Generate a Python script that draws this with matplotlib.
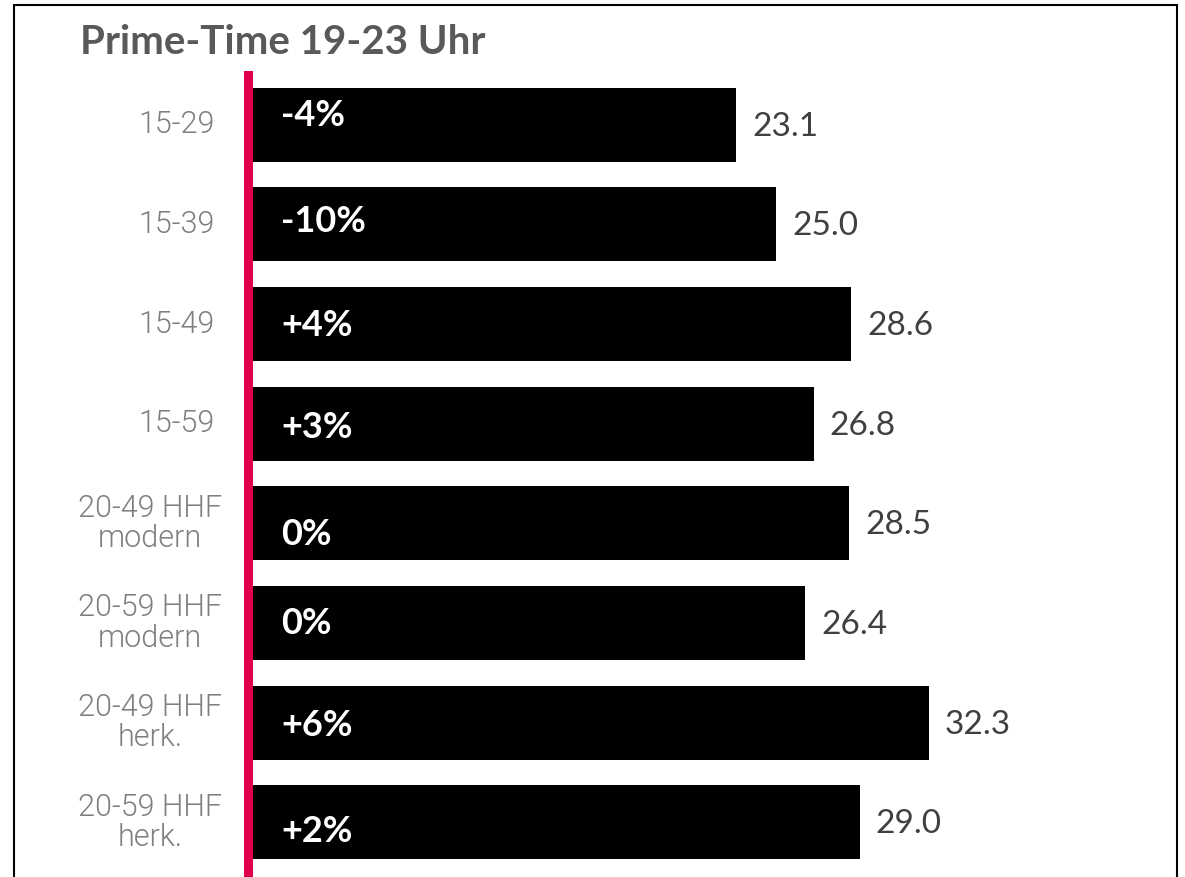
import matplotlib
matplotlib.use('Agg')
import matplotlib.pyplot as plt
from matplotlib.patches import Rectangle

# данные
cats = ['15-29', '15-39', '15-49', '15-59',
        '20-49 HHF\nmodern', '20-59 HHF\nmodern',
        '20-49 HHF\nherk.', '20-59 HHF\nherk.']
vals = [23.1, 25.0, 28.6, 26.8, 28.5, 26.4, 32.3, 29.0]
chg = ['-4%', '-10%', '+4%', '+3%', '0%', '0%', '+6%', '+2%']
title = 'Prime-Time 19-23 Uhr'

# небольшой сдвиг подписей процентов по вертикали (px, вниз)
chg_nudge = [-9, -3, 1, 4, 11, 1, 3, 9]

W, H = 1185, 877
fig = plt.figure(figsize=(W / 100, H / 100), dpi=100)
ax = fig.add_axes([252 / W, 1 - 872 / H, (1170 - 252) / W, (872 - 75) / H])

pos = list(range(len(cats)))
ax.barh(pos, vals, height=0.743, color='black', left=0)
ax.set_xlim(0, (1170 - 252) / 20.96)
ax.set_ylim(len(cats) - 0.5, -0.5)

for i, v in enumerate(vals):
    ax.annotate(f'{v:.1f}', (v, i), xytext=(16, -2), textcoords='offset pixels',
                ha='left', va='center', fontsize=24, family='Lato', color='#404040')
    ax.annotate(chg[i], (0, i), xytext=(29, -chg_nudge[i]), textcoords='offset pixels',
                ha='left', va='center', fontsize=26, family='Lato', fontweight='bold',
                color='white')
    dx = -30 if '\n' in cats[i] else -37
    ax.annotate(cats[i], (0, i), xytext=(dx, 0), textcoords='offset pixels',
                ha='right', va='center', multialignment='center', fontsize=22,
                family='Roboto', fontweight=300, color='#7f7f7f', linespacing=1.05)

for s in ['top', 'right', 'bottom']:
    ax.spines[s].set_visible(False)
ax.spines['left'].set_color('#e0004d')
ax.spines['left'].set_linewidth(6.5)
ax.spines['left'].set_position(('outward', 3.2))
ax.set_xticks([])
ax.set_yticks([])

fig.text(80 / W, 1 - 43 / H, title, ha='left', va='center', fontsize=29,
         family='Lato', fontweight='bold', color='#595959')

fig.patches.append(Rectangle((14 / W, -0.05), (1177 - 14) / W, 1.05 - 5 / H,
                             transform=fig.transFigure, fill=False,
                             edgecolor='black', linewidth=1.5))

plt.savefig('out.png', dpi=100)
plt.close()
